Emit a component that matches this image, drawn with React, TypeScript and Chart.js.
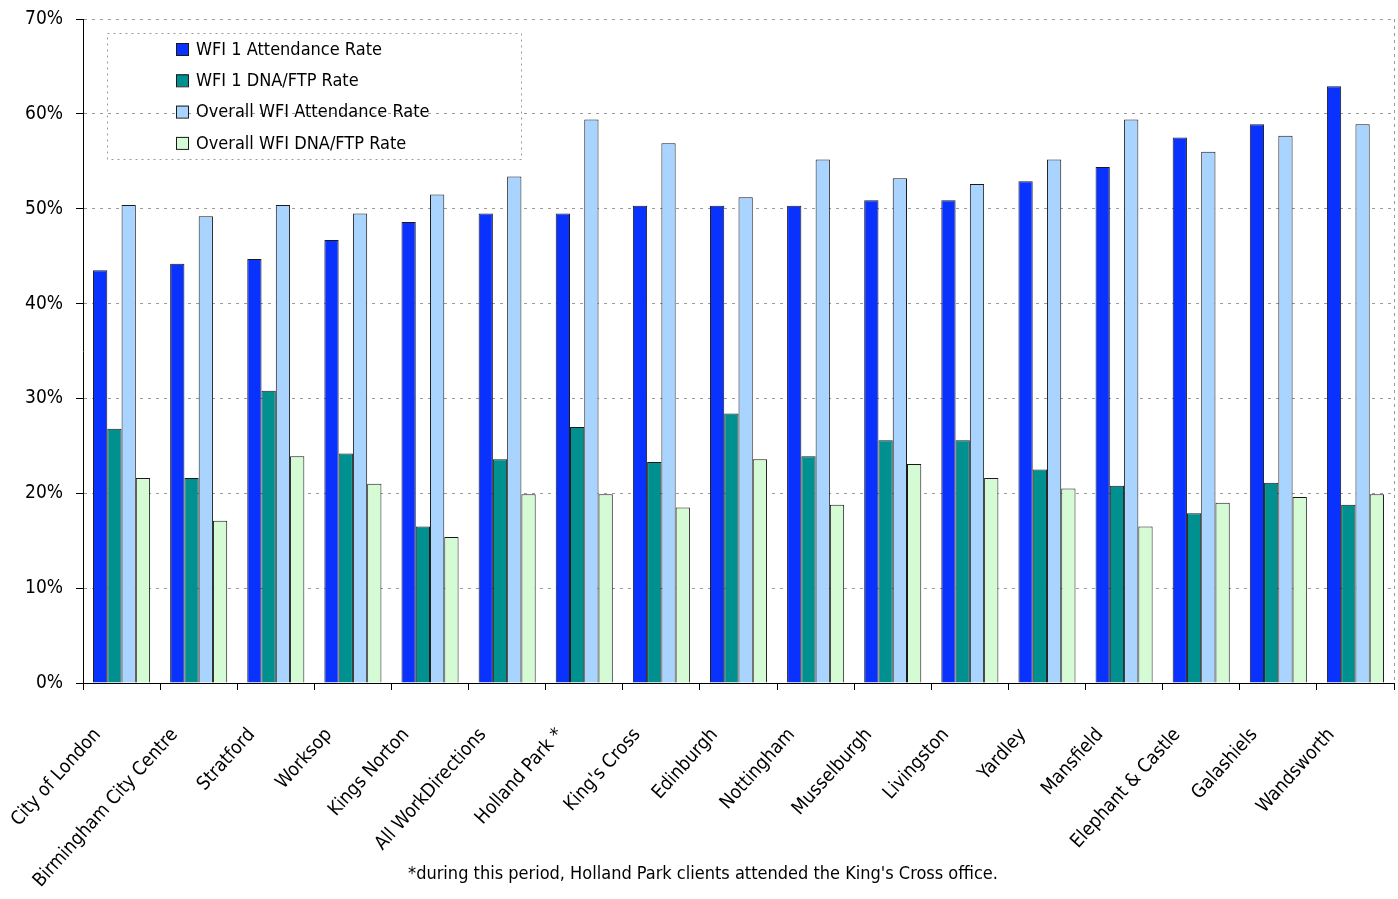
import React, { useEffect, useRef } from 'react';
import { Chart, registerables } from 'chart.js';

Chart.register(...registerables);

const categories = [
  'City of London',
  'Birmingham City Centre',
  'Stratford',
  'Worksop',
  'Kings Norton',
  'All WorkDirections',
  'Holland Park *',
  "King's Cross",
  'Edinburgh',
  'Nottingham',
  'Musselburgh',
  'Livingston',
  'Yardley',
  'Mansfield',
  'Elephant & Castle',
  'Galashiels',
  'Wandsworth',
];

const wfi1Attendance = [43.5, 44.2, 44.7, 46.7, 48.6, 49.5, 49.5, 50.3, 50.3, 50.3, 50.9, 50.9, 52.9, 54.4, 57.5, 58.9, 62.9];
const wfi1Dna = [26.8, 21.6, 30.8, 24.2, 16.5, 23.6, 27.0, 23.3, 28.4, 23.9, 25.6, 25.6, 22.5, 20.8, 17.9, 21.1, 18.8];
const overallAttendance = [50.4, 49.2, 50.4, 49.5, 51.5, 53.4, 59.4, 56.9, 51.2, 55.2, 53.2, 52.6, 55.2, 59.4, 56.0, 57.7, 58.9];
const overallDna = [21.6, 17.1, 23.9, 21.0, 15.4, 19.9, 19.9, 18.5, 23.6, 18.8, 23.1, 21.6, 20.5, 16.5, 19.0, 19.6, 19.9];

const seriesNames = ['WFI 1 Attendance Rate', 'WFI 1 DNA/FTP Rate', 'Overall WFI Attendance Rate', 'Overall WFI DNA/FTP Rate'];
const seriesColors = ['#0A32FF', '#009090', '#A9D4FF', '#D5FBD5'];

const yTicks = [0, 10, 20, 30, 40, 50, 60, 70];
const footnote = "*during this period, Holland Park clients attended the King's Cross office.";

const FONT = "'DejaVu Sans Condensed', 'DejaVu Sans', sans-serif";

const boxLegendPlugin = {
  id: 'boxLegend',
  afterDraw(chart: any) {
    const { ctx, chartArea } = chart;
    const x0 = chartArea.left + 24;
    const y0 = chartArea.top + 14;
    const w = 414;
    const h = 126;
    ctx.save();
    ctx.strokeStyle = '#9a9a9a';
    ctx.lineWidth = 1;
    ctx.setLineDash([2, 4]);
    ctx.strokeRect(x0 + 0.5, y0 + 0.5, w, h);
    ctx.setLineDash([]);
    ctx.font = `18px ${FONT}`;
    ctx.textBaseline = 'middle';
    ctx.fillStyle = '#000';
    chart.data.datasets.forEach((ds: any, i: number) => {
      const cy = y0 + 16 + i * 31.3;
      const sx = x0 + 69;
      ctx.fillStyle = ds.backgroundColor;
      ctx.fillRect(sx, cy - 6, 12, 12);
      ctx.strokeStyle = '#1a1a1a';
      ctx.strokeRect(sx + 0.5, cy - 5.5, 12, 12);
      ctx.fillStyle = '#000';
      ctx.fillText(ds.label, sx + 20, cy + 1);
    });
    ctx.restore();
  },
};

const rightBorderPlugin = {
  id: 'rightBorder',
  afterDraw(chart: any) {
    const { ctx, chartArea } = chart;
    ctx.save();
    ctx.strokeStyle = '#9a9a9a';
    ctx.lineWidth = 1;
    ctx.setLineDash([3, 4]);
    ctx.beginPath();
    ctx.moveTo(Math.round(chartArea.right) + 0.5, chartArea.top);
    ctx.lineTo(Math.round(chartArea.right) + 0.5, chartArea.bottom);
    ctx.stroke();
    ctx.restore();
  },
};

export default function App() {
  const canvasRef = useRef<HTMLCanvasElement | null>(null);

  useEffect(() => {
    document.body.style.margin = '0';
    const canvas = canvasRef.current;
    if (!canvas) return;
    const data = [wfi1Attendance, wfi1Dna, overallAttendance, overallDna];
    const chart = new Chart(canvas, {
      type: 'bar',
      data: {
        labels: categories,
        datasets: data.map((d, i) => ({
          label: seriesNames[i],
          data: d,
          backgroundColor: seriesColors[i],
          borderColor: '#1a1a1a',
          borderWidth: 1,
          categoryPercentage: 0.74,
          barPercentage: 1,
        })),
      },
      options: {
        animation: false,
        responsive: false,
        maintainAspectRatio: false,
        layout: { padding: { left: 8, right: 4, top: 19, bottom: 0 } },
        plugins: {
          legend: { display: false },
          tooltip: { enabled: false },
        },
        scales: {
          x: {
            offset: true,
            grid: {
              display: true,
              drawOnChartArea: false,
              drawTicks: true,
              tickLength: 7,
              tickColor: '#000',
              offset: true,
            },
            border: { display: true, color: '#000', width: 1 },
            ticks: {
              autoSkip: false,
              maxRotation: 48,
              minRotation: 48,
              color: '#000',
              font: { family: FONT, size: 19 },
              padding: 34,
              labelOffset: -24,
            },
            afterFit(scale: any) {
              scale.height = 216;
              scale.paddingLeft = 0;
              scale.paddingRight = 0;
            },
          },
          y: {
            min: 0,
            max: 70,
            afterBuildTicks(scale: any) {
              scale.ticks = yTicks.map((v) => ({ value: v }));
            },
            grid: {
              color: '#9a9a9a',
              lineWidth: 1,
              drawTicks: true,
              tickLength: 7,
              tickColor: '#000',
              tickBorderDash: [],
            },
            border: { display: true, color: '#000', width: 1, dash: [3, 5] },
            ticks: {
              color: '#000',
              font: { family: FONT, size: 19 },
              padding: 13,
              callback: (v: any) => `${v}%`,
            },
            afterFit(scale: any) {
              scale.width = 75;
              scale.paddingTop = 0;
              scale.paddingBottom = 0;
            },
          },
        },
      },
      plugins: [boxLegendPlugin, rightBorderPlugin],
    });
    return () => chart.destroy();
  }, []);

  return (
    <div style={{ position: 'relative', width: 1398, height: 899 }}>
      <canvas ref={canvasRef} width={1398} height={899} style={{ display: 'block', width: 1398, height: 899 }} />
      <div
        style={{
          position: 'absolute',
          left: 4,
          top: 862,
          width: 1398,
          textAlign: 'center',
          fontFamily: FONT,
          fontSize: 18,
          color: '#000',
          whiteSpace: 'nowrap',
        }}
      >
        {footnote}
      </div>
    </div>
  );
}
